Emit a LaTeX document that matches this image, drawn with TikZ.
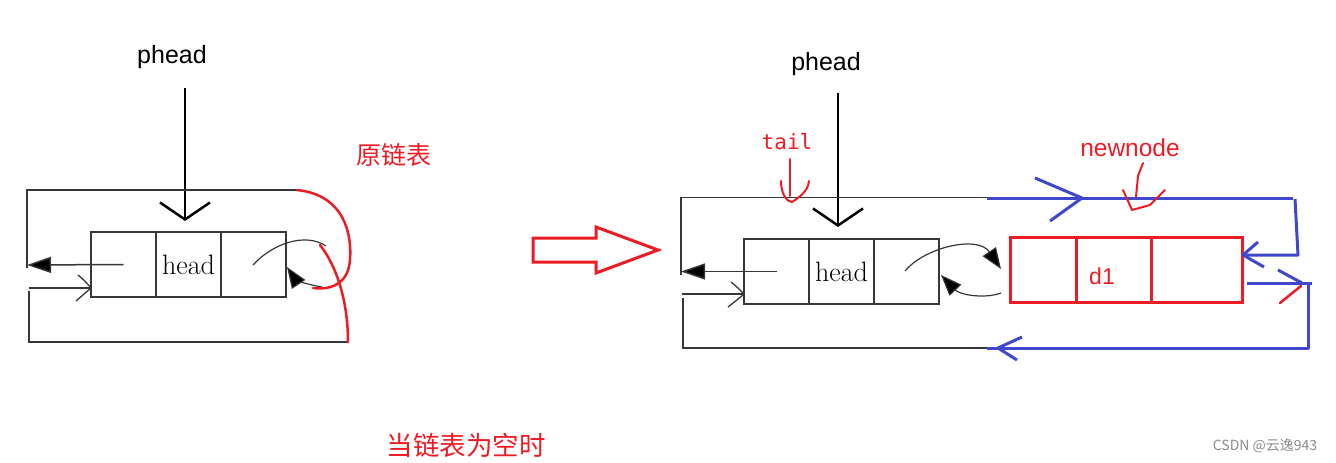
\documentclass[tikz,border=0pt]{standalone}
\usepackage{fontspec}
\newfontfamily\cjkfont{Noto Sans CJK SC}
\newfontfamily\sansfont{Liberation Sans}
\newfontfamily\monofont{DejaVu Sans Mono}
\usetikzlibrary{arrows.meta}
\definecolor{pred}{RGB}{237,28,36}
\definecolor{pblue}{RGB}{63,72,204}
\definecolor{lgray}{RGB}{55,55,55}
\begin{document}
\begin{tikzpicture}[x=1pt,y=-1pt,
  cell/.style={draw=lgray, line width=1.6pt, minimum height=65pt, inner sep=0pt, outer sep=0pt},
  rcell/.style={draw=pred, line width=3pt, minimum height=65pt, inner sep=0pt, outer sep=0pt},
  wire/.style={draw=lgray, line width=1.5pt},
  pointer/.style={draw=black, line width=2.5pt, -{Straight Barb[length=17pt,width=50pt]}},
  filledtip/.style={-{Triangle[length=24pt,width=16pt,fill=black]}},
  curvetip/.style={-{Triangle[length=21pt,width=16pt,fill=black]}},
  redpen/.style={draw=pred, line width=2.5pt, line join=round, line cap=round},
  bluepen/.style={draw=pblue, line width=3pt, line join=round},
  headtext/.style={font=\fontsize{28}{32}\selectfont},
  pheadtext/.style={font=\sansfont\fontsize{25}{30}\selectfont},
  cjktext/.style={text=pred, font=\cjkfont\fontsize{25}{30}\selectfont}
]
\useasboundingbox (0,0) rectangle (1336,463);

% ---------------- left picture ----------------
\node[cell, minimum width=65pt] (L1) at (123.5,264.5) {};
\node[cell, minimum width=65pt, headtext] (L2) at (188.5,264.5) {head};
\node[cell, minimum width=65pt] (L3) at (253.5,264.5) {};
\node[pheadtext] (ph1) at (172,57) {phead};
\coordinate (ph1s) at (185,88);
\coordinate (ph1e) at (185,221);
\draw[pointer] (ph1s) -- (ph1e);

\coordinate (Ltl) at (27,190);
\coordinate (Ltr) at (297,190);
\coordinate (Lml) at (27,268);
\coordinate (Larr) at (27,265);
\draw[wire] (Ltr) -- (Ltl) -- (Lml);
\draw[wire, filledtip] (L1.center) -- (Larr);
\coordinate (Lin) at (29,288);
\coordinate (Linend) at (91,288);
\draw[wire] (Lin) -- (Linend);
\draw[wire, line width=1.3pt] (78,275) .. controls (84,280) .. (Linend) .. controls (84,294) .. (76,301);
\coordinate (Lbl1) at (29,291);
\coordinate (Lbl2) at (29,342);
\coordinate (Lbr) at (348,342);
\draw[wire] (Lbl1) -- (Lbl2) -- (Lbr);
\draw[wire, line width=1.2pt] (253,265) .. controls (272,244) and (305,232) .. (326,246);
\coordinate (Lc2s) at (322,287);
\coordinate (Lc2e) at (287,267);
\draw[wire, line width=1.2pt, curvetip] (Lc2s) .. controls (308,285) and (295,279) .. (Lc2e);
\draw[redpen] (Ltr) .. controls (345,195) and (352,235) .. (350,260) .. controls (348,285) and (330,290) .. (313,288);
\draw[redpen] (320,245) .. controls (336,265) and (348,300) .. (Lbr);
\node[cjktext] (orig) at (394,155) {原链表};
\node[cjktext, font=\cjkfont\fontsize{26.5}{30}\selectfont] (empty) at (466,445) {当链表为空时};

% ---------------- big arrow ----------------
\draw[draw=pred, line width=3pt] (533,238) -- (596,238) -- (596,227) -- (658,250) -- (596,273) -- (596,262) -- (533,262) -- cycle;

% ---------------- right picture ----------------
\node[cell, minimum width=65pt] (R1) at (776.5,271.5) {};
\node[cell, minimum width=65pt, headtext] (R2) at (841.5,271.5) {head};
\node[cell, minimum width=65pt] (R3) at (906.5,271.5) {};
\node[pheadtext] (ph2) at (826,64) {phead};
\coordinate (ph2s) at (838,93);
\coordinate (ph2e) at (838,227);
\draw[pointer] (ph2s) -- (ph2e);

\coordinate (Rtl) at (681,197.5);
\coordinate (Rtr) at (1000,197.5);
\coordinate (Rml) at (681,275);
\coordinate (Rarr) at (681,271.5);
\draw[wire] (Rtr) -- (Rtl) -- (Rml);
\draw[wire, filledtip] (R1.center) -- (Rarr);
\coordinate (Rin) at (682,294);
\coordinate (Rinend) at (744,294);
\draw[wire] (Rin) -- (Rinend);
\draw[wire, line width=1.3pt] (731,282) .. controls (737,287) .. (Rinend) .. controls (737,300) .. (728,307);
\coordinate (Rbl1) at (683,298);
\coordinate (Rbl2) at (683,348);
\coordinate (Rbr) at (995,348);
\draw[wire] (Rbl1) -- (Rbl2) -- (Rbr);
\coordinate (Rc1s) at (905,271);
\coordinate (Rc1e) at (1001,269);
\draw[wire, line width=1.2pt, curvetip] (Rc1s) .. controls (925,247) and (978,235) .. (Rc1e);
\coordinate (Rc2s) at (1001,293);
\coordinate (Rc2e) at (941,275);
\draw[wire, line width=1.2pt, curvetip] (Rc2s) .. controls (985,299) and (960,295) .. (Rc2e);

% new node
\node[rcell, minimum width=66pt] (D1) at (1043,269.5) {};
\node[rcell, minimum width=75pt] (D2) at (1113.5,269.5) {};
\node[rcell, minimum width=91pt] (D3) at (1196.5,269.5) {};
\node[text=pred, font=\sansfont\fontsize{23}{26}\selectfont] (d1) at (1102,276) {d1};

% blue links
\coordinate (Bt1) at (987,198);
\coordinate (Bt2) at (1293,198);
\coordinate (Btip1) at (1082,198);
\draw[bluepen] (Bt1) -- (Bt2);
\draw[bluepen] (1035,178) -- (Btip1) -- (1050,221);
\coordinate (Br1) at (1295,199);
\coordinate (Br2) at (1298,255);
\coordinate (Btip2) at (1243,255);
\draw[bluepen] (Br1) -- (Br2) -- (Btip2);
\draw[bluepen] (1258,242) -- (Btip2) -- (1264,267);
\coordinate (Bo1) at (1247,283);
\coordinate (Bo2) at (1312,283);
\coordinate (Bo3) at (1308,283);
\coordinate (Bo4) at (1308,348);
\coordinate (Bo5) at (987,348);
\coordinate (Btip3) at (1302,283);
\coordinate (Btip4) at (998,348);
\draw[bluepen] (Bo1) -- (Bo2);
\draw[bluepen] (Bo3) -- (Bo4) -- (Bo5);
\draw[bluepen] (1278,270) -- (Btip3);
\draw[redpen] (1280,303) -- (1301,286);
\draw[bluepen] (1022,337) -- (Btip4) -- (1017,360);

% labels with hand-drawn pointers
\node[text=pred, font=\monofont\fontsize{21}{24}\selectfont] (tl) at (787,142) {tail};
\coordinate (ta1) at (790,159);
\coordinate (ta2) at (790,196);
\draw[redpen, line width=2pt] (ta1) -- (ta2);
\draw[redpen, line width=2pt] (781,181) .. controls (781,194) and (787,202) .. (792,202) .. controls (798,198) and (808,192) .. (809,181);
\node[text=pred, font=\sansfont\fontsize{24.5}{28}\selectfont] (nn) at (1130,148) {newnode};
\coordinate (na1) at (1143,163);
\coordinate (na2) at (1136,197);
\draw[redpen, line width=2pt] (na1) -- (1138,176) -- (na2);
\draw[redpen, line width=2pt] (1123,190) -- (1132,210) -- (1150,205) -- (1165,190);

\node[text=black!45, font=\cjkfont\fontsize{14}{16}\selectfont] (wm) at (1265,446) {CSDN @云逸943};
\end{tikzpicture}
\end{document}
